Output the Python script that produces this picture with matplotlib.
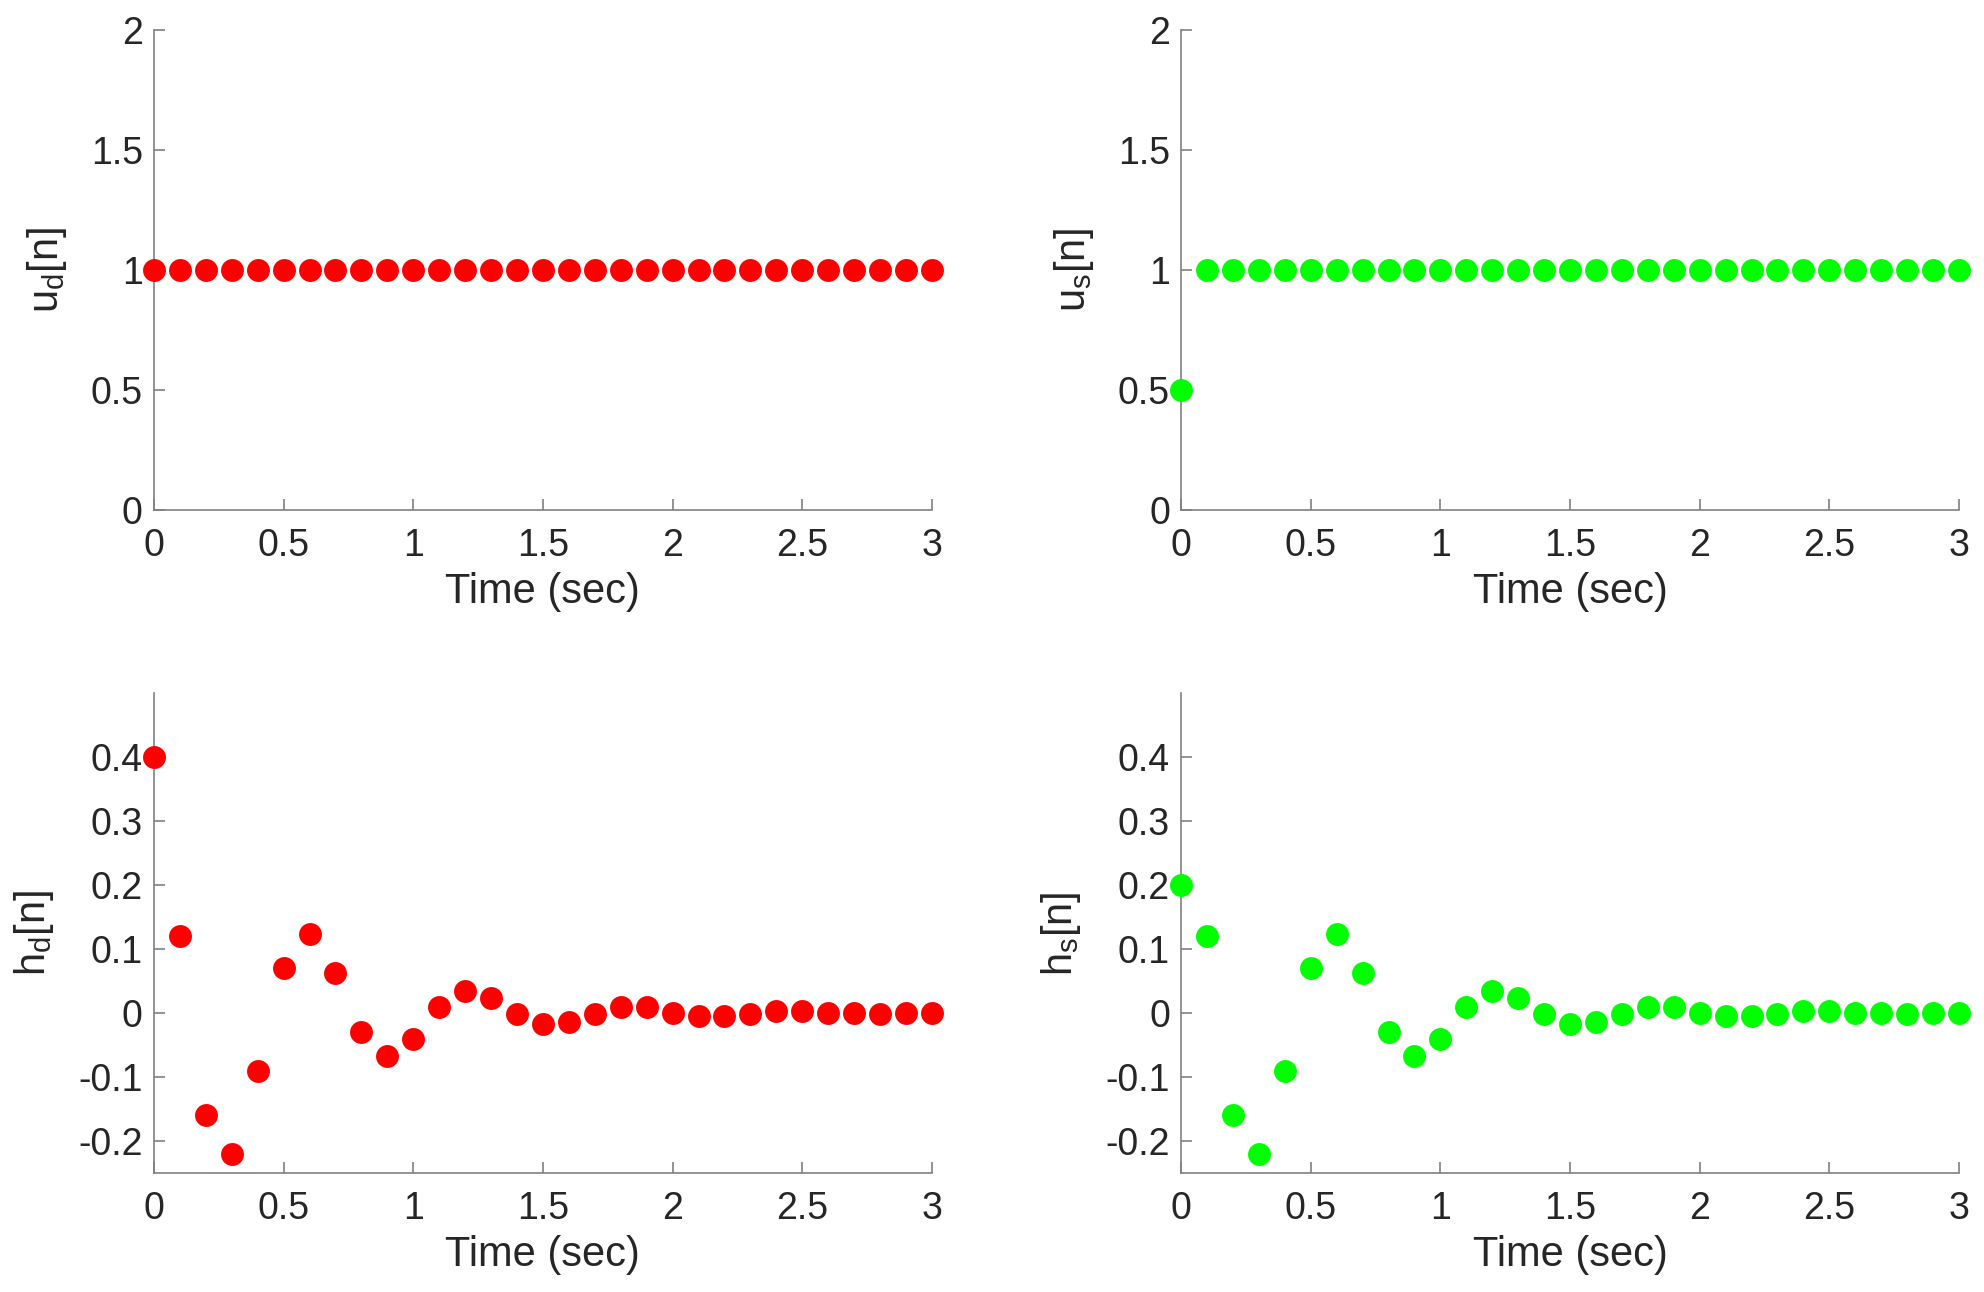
import numpy as np
import matplotlib
matplotlib.use('Agg')
import matplotlib.pyplot as plt

# Tijdas en signalen
t = [round(0.1 * k, 1) for k in range(31)]

u_d = [1.0] * 31
u_s = [0.5] + [1.0] * 30

h_d = [0.40, 0.121, -0.160, -0.220, -0.090, 0.071, 0.123, 0.062, -0.029, -0.067,
       -0.040, 0.009, 0.035, 0.024, -0.002, -0.017, -0.014, -0.001, 0.009, 0.009,
       0.001, -0.005, -0.005, -0.002, 0.003, 0.003, 0.0, 0.0, -0.002, 0.0, 0.0]
h_s = [0.20] + h_d[1:]

x_ticks = [0, 0.5, 1, 1.5, 2, 2.5, 3]
x_ticklabels = ['0', '0.5', '1', '1.5', '2', '2.5', '3']
u_ticks = [0, 0.5, 1, 1.5, 2]
u_ticklabels = ['0', '0.5', '1', '1.5', '2']
h_ticks = [-0.2, -0.1, 0, 0.1, 0.2, 0.3, 0.4]
h_ticklabels = ['-0.2', '-0.1', '0', '0.1', '0.2', '0.3', '0.4']

plt.rcParams['font.family'] = ['Liberation Sans', 'DejaVu Sans']
plt.rcParams['mathtext.default'] = 'regular'

fig = plt.figure(figsize=(19.84, 12.92), dpi=100)

spine_col = '#808080'
text_col = '#262626'


def make_axes(rect, y, color, ylabel, ylim, yticks, yticklabels):
    ax = fig.add_axes(rect)
    ax.plot(t, y, 'o', color=color, markersize=16.5, markeredgewidth=0,
            clip_on=False, zorder=5)
    ax.set_xlim(0, 3)
    ax.set_ylim(*ylim)
    ax.set_xticks(x_ticks)
    ax.set_xticklabels(x_ticklabels)
    ax.set_yticks(yticks)
    ax.set_yticklabels(yticklabels)
    for s in ['top', 'right']:
        ax.spines[s].set_visible(False)
    for s in ['left', 'bottom']:
        ax.spines[s].set_color(spine_col)
        ax.spines[s].set_linewidth(1.2)
    ax.tick_params(direction='in', length=8, width=1.2, color=spine_col,
                   labelsize=27, labelcolor=text_col)
    ax.tick_params(axis='x', pad=13)
    ax.tick_params(axis='y', pad=8)
    ax.set_xlabel('Time (sec)', fontsize=30, color=text_col, labelpad=6)
    ax.set_ylabel(ylabel, fontsize=30, color=text_col, labelpad=16)
    return ax


left_x, right_x, w = 0.0776, 0.5953, 0.3921
top_y, bot_y, h = 0.6053, 0.0921, 0.3712

make_axes([left_x, top_y, w, h], u_d, '#ff0000', 'u$_d$[n]', (0, 2), u_ticks, u_ticklabels)
make_axes([right_x, top_y, w, h], u_s, '#00ff00', 'u$_s$[n]', (0, 2), u_ticks, u_ticklabels)
make_axes([left_x, bot_y, w, h], h_d, '#ff0000', 'h$_d$[n]', (-0.25, 0.5), h_ticks, h_ticklabels)
make_axes([right_x, bot_y, w, h], h_s, '#00ff00', 'h$_s$[n]', (-0.25, 0.5), h_ticks, h_ticklabels)

fig.savefig('out.png', dpi=100, facecolor='white')
